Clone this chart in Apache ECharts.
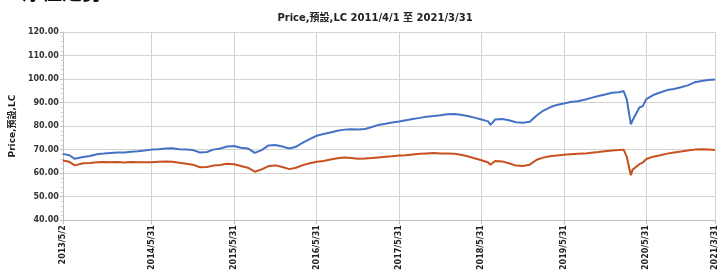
<!DOCTYPE html>
<html>
<head>
<meta charset="utf-8">
<script src="https://cdn.jsdelivr.net/npm/echarts@6/dist/echarts.min.js"></script>
<style>
  html, body { margin: 0; padding: 0; background: #fff; }
  #chart { width: 719px; height: 273px; }
</style>
</head>
<body>
<div id="chart"></div>
<script>
// 日期 (x 軸)
var dates = [
  '2013-05-02', '2013-05-31', '2013-06-24', '2013-06-30', '2013-07-31', '2013-08-31', '2013-09-30',
  '2013-10-31', '2013-11-30', '2013-12-31', '2014-01-31', '2014-02-28', '2014-03-31', '2014-04-30',
  '2014-05-31', '2014-06-30', '2014-07-31', '2014-08-31', '2014-09-30', '2014-10-31', '2014-11-30',
  '2014-12-31', '2015-01-31', '2015-02-28', '2015-03-31', '2015-04-30', '2015-05-31', '2015-06-30',
  '2015-07-31', '2015-08-31', '2015-09-30', '2015-10-31', '2015-11-30', '2015-12-31', '2016-01-31',
  '2016-02-29', '2016-03-31', '2016-04-30', '2016-05-31', '2016-06-30', '2016-07-31', '2016-08-31',
  '2016-09-30', '2016-10-31', '2016-11-30', '2016-12-31', '2017-01-31', '2017-02-28', '2017-03-31',
  '2017-04-30', '2017-05-31', '2017-06-30', '2017-07-31', '2017-08-31', '2017-09-30', '2017-10-31',
  '2017-11-30', '2017-12-31', '2018-01-31', '2018-02-28', '2018-03-31', '2018-04-30', '2018-05-31',
  '2018-06-30', '2018-07-10', '2018-07-31', '2018-08-31', '2018-09-30', '2018-10-31', '2018-11-30',
  '2018-12-31', '2019-01-31', '2019-02-28', '2019-03-31', '2019-04-30', '2019-05-31', '2019-06-30',
  '2019-07-31', '2019-08-31', '2019-09-30', '2019-10-31', '2019-11-30', '2019-12-31', '2020-01-31',
  '2020-02-20', '2020-03-05', '2020-03-23', '2020-03-31', '2020-04-30', '2020-05-15', '2020-05-31',
  '2020-06-30', '2020-07-31', '2020-08-31', '2020-09-30', '2020-10-31', '2020-11-30', '2020-12-31',
  '2021-01-31', '2021-02-28', '2021-03-31'
];

// 藍線
var blueValues = [
  68.2, 67.6, 66.1, 66.3, 66.9, 67.3, 68.0,
  68.3, 68.6, 68.8, 68.8, 69.1, 69.3, 69.6,
  70.0, 70.2, 70.5, 70.6, 70.2, 70.1, 69.8,
  68.8, 69.0, 70.0, 70.5, 71.3, 71.5, 70.8,
  70.5, 68.6, 69.8, 71.8, 72.0, 71.3, 70.5,
  71.2, 73.0, 74.5, 75.9, 76.6, 77.3, 78.0,
  78.5, 78.7, 78.6, 78.8, 79.6, 80.5, 81.0,
  81.5, 82.0, 82.5, 83.0, 83.5, 84.0, 84.3,
  84.6, 85.0, 85.1, 84.8, 84.3, 83.6, 82.8,
  82.0, 80.5, 82.8, 83.0, 82.5, 81.6, 81.4,
  81.8, 84.5, 86.5, 88.0, 89.0, 89.6, 90.2,
  90.6, 91.2, 92.0, 92.8, 93.4, 94.2, 94.4,
  94.9, 91.4, 80.8, 82.5, 87.9, 88.5, 91.5,
  93.2, 94.3, 95.3, 95.8, 96.5, 97.3, 98.6,
  99.2, 99.6, 99.8
];

// 紅線
var redValues = [
  65.4, 64.8, 63.3, 63.5, 64.2, 64.3, 64.6,
  64.7, 64.6, 64.7, 64.5, 64.7, 64.6, 64.6,
  64.6, 64.8, 65.0, 64.8, 64.4, 64.0, 63.6,
  62.5, 62.6, 63.2, 63.5, 64.0, 63.8, 63.0,
  62.3, 60.6, 61.6, 63.0, 63.3, 62.6, 61.7,
  62.3, 63.4, 64.2, 64.8, 65.2, 65.8, 66.3,
  66.6, 66.4, 66.1, 66.2, 66.4, 66.7, 67.0,
  67.2, 67.5, 67.6, 67.9, 68.2, 68.4, 68.6,
  68.4, 68.3, 68.2, 67.8, 67.2, 66.3, 65.5,
  64.5, 63.6, 65.2, 65.0, 64.2, 63.2, 63.0,
  63.6, 65.7, 66.6, 67.2, 67.5, 67.8, 68.0,
  68.2, 68.3, 68.7, 69.0, 69.3, 69.6, 69.8,
  70.0, 67.0, 59.1, 61.5, 63.8, 64.5, 66.0,
  67.0, 67.6, 68.3, 68.8, 69.2, 69.6, 70.0,
  70.2, 70.1, 69.8
];

// x 軸刻度
var tickDates = ['2013-05-02', '2014-05-31', '2015-05-31', '2016-05-31', '2017-05-31',
  '2018-05-31', '2019-05-31', '2020-05-31', '2021-03-31'];

function toTime(s) {
  var p = s.split('-');
  return new Date(+p[0], +p[1] - 1, +p[2]).getTime();
}

var tickTimes = tickDates.map(toTime);
var font = 'Verdana, "DejaVu Sans", "Noto Sans CJK TC", sans-serif';

var chart = echarts.init(document.getElementById('chart'));
chart.setOption({
  animation: false,
  backgroundColor: '#fff',
  title: {
    text: 'Price,預設,LC 2011/4/1 至 2021/3/31',
    left: 370,
    top: 8,
    textAlign: 'center',
    textStyle: { fontFamily: font, fontSize: 10, fontWeight: 'bold', color: '#222' }
  },
  graphic: [{
    type: 'text',
    left: 22,
    top: -18,
    style: { text: '淨值走勢', fontSize: 20, fontWeight: 'bold', fill: '#111', fontFamily: '"Noto Sans CJK TC", sans-serif' }
  }],
  grid: { left: 53, right: 3, top: 32, bottom: 51 },
  xAxis: {
    type: 'value',
    min: tickTimes[0],
    max: tickTimes[tickTimes.length - 1],
    axisLine: { lineStyle: { color: '#bdbdbd' } },
    axisTick: { show: true, customValues: tickTimes, length: 4, lineStyle: { color: '#bdbdbd' } },
    splitLine: { show: true, lineStyle: { color: '#d4d4d4', width: 1 } },
    axisLabel: {
      customValues: tickTimes,
      rotate: 90,
      margin: 5,
      fontFamily: font,
      fontSize: 8,
      fontWeight: 'bold',
      color: '#222',
      formatter: function (v) {
        var d = new Date(v);
        return d.getFullYear() + '/' + (d.getMonth() + 1) + '/' + d.getDate();
      }
    }
  },
  yAxis: {
    type: 'value',
    min: 40,
    max: 120,
    interval: 10,
    name: 'Price,預設,LC',
    nameLocation: 'middle',
    nameGap: 36,
    nameTextStyle: { fontFamily: font, fontSize: 9, fontWeight: 'bold', color: '#222' },
    axisLine: { show: true, lineStyle: { color: '#bdbdbd' } },
    axisTick: { show: true, length: 3, lineStyle: { color: '#bdbdbd' } },
    minorTick: { show: true, splitNumber: 5, length: 2, lineStyle: { color: '#cfcfcf' } },
    splitLine: { lineStyle: { color: '#d4d4d4', width: 1 } },
    axisLabel: {
      fontFamily: font,
      fontSize: 8,
      fontWeight: 'bold',
      color: '#333',
      margin: 4,
      formatter: function (v) { return v.toFixed(2); }
    }
  },
  series: [
    {
      type: 'line',
      showSymbol: false,
      data: dates.map(function (d, i) { return [toTime(d), blueValues[i]]; }),
      lineStyle: { color: '#4472C4', width: 2 },
      itemStyle: { color: '#4472C4' }
    },
    {
      type: 'line',
      showSymbol: false,
      data: dates.map(function (d, i) { return [toTime(d), redValues[i]]; }),
      lineStyle: { color: '#C8501E', width: 2 },
      itemStyle: { color: '#C8501E' }
    }
  ]
});
</script>
</body>
</html>
